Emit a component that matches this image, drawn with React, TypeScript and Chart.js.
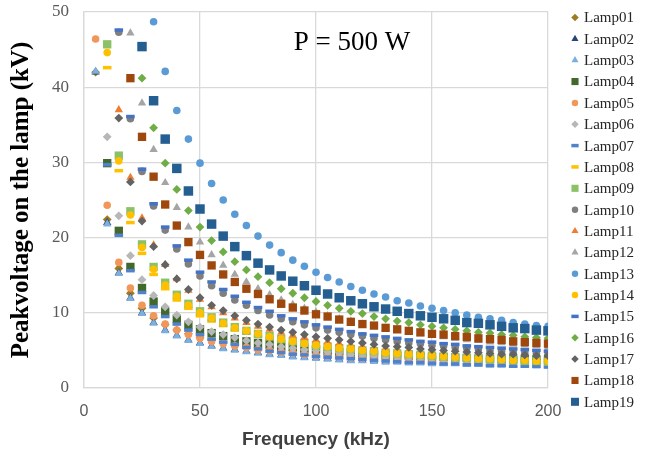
import React, { useEffect, useRef } from 'react';
import { Chart, registerables } from 'chart.js';

Chart.register(...registerables);

// ---------- data ----------
const frequencies = [5, 10, 15, 20, 25, 30, 35, 40, 45, 50, 55, 60, 65, 70, 75, 80, 85, 90, 95, 100,
  105, 110, 115, 120, 125, 130, 135, 140, 145, 150, 155, 160, 165, 170, 175, 180, 185, 190, 195, 200];

const lampNames = ['Lamp01', 'Lamp02', 'Lamp03', 'Lamp04', 'Lamp05', 'Lamp06', 'Lamp07', 'Lamp08', 'Lamp09', 'Lamp10',
  'Lamp11', 'Lamp12', 'Lamp13', 'Lamp14', 'Lamp15', 'Lamp16', 'Lamp17', 'Lamp18', 'Lamp19'];

const lamp01 = [42.0, 22.4, 15.9, 12.6, 10.6, 9.3, 8.4, 7.7, 7.2, 6.7, 6.4, 6.1, 5.8, 5.6, 5.4, 5.3, 5.1, 5.0, 4.9, 4.8, 4.7, 4.6, 4.5, 4.4, 4.4, 4.3, 4.3, 4.2, 4.2, 4.1, 4.1, 4.0, 4.0, 4.0, 3.9, 3.9, 3.9, 3.8, 3.8, 3.8];
const lamp02 = [42.0, 22.0, 15.3, 12.0, 10.0, 8.7, 7.7, 7.0, 6.4, 6.0, 5.6, 5.3, 5.1, 4.9, 4.7, 4.5, 4.4, 4.2, 4.1, 4.0, 3.9, 3.8, 3.7, 3.7, 3.6, 3.5, 3.5, 3.4, 3.4, 3.3, 3.3, 3.3, 3.2, 3.2, 3.1, 3.1, 3.1, 3.1, 3.0, 3.0];
const lamp03 = [42.1, 21.8, 15.2, 11.9, 9.9, 8.6, 7.6, 6.9, 6.3, 5.9, 5.5, 5.2, 5.0, 4.8, 4.6, 4.4, 4.3, 4.1, 4.0, 3.9, 3.8, 3.7, 3.6, 3.6, 3.5, 3.4, 3.4, 3.3, 3.3, 3.2, 3.2, 3.2, 3.1, 3.1, 3.0, 3.0, 3.0, 3.0, 2.9, 2.9];
const lamp04 = [null, 29.9, 20.9, 16.1, 13.3, 11.5, 10.2, 9.2, 8.4, 7.8, 7.3, 6.9, 6.5, 6.2, 6.0, 5.8, 5.5, 5.4, 5.2, 5.1, 4.9, 4.8, 4.7, 4.6, 4.5, 4.4, 4.3, 4.3, 4.2, 4.1, 4.1, 4.0, 4.0, 3.9, 3.9, 3.8, 3.8, 3.8, 3.7, 3.7];
const lamp05 = [46.4, 24.3, 16.7, 13.3, 11.0, 9.6, 8.5, 7.7, 7.1, 6.6, 6.2, 5.9, 5.6, 5.4, 5.1, 5.0, 4.8, 4.7, 4.5, 4.4, 4.3, 4.2, 4.1, 4.0, 4.0, 3.9, 3.8, 3.8, 3.7, 3.7, 3.6, 3.6, 3.5, 3.5, 3.5, 3.4, 3.4, 3.4, 3.3, 3.3];
const lamp06 = [null, 33.4, 22.9, 17.6, 14.4, 12.3, 10.8, 9.7, 8.8, 8.1, 7.5, 7.1, 6.7, 6.3, 6.0, 5.8, 5.5, 5.3, 5.1, 5.0, 4.8, 4.7, 4.5, 4.4, 4.3, 4.2, 4.1, 4.1, 4.0, 3.9, 3.8, 3.8, 3.7, 3.7, 3.6, 3.6, 3.5, 3.5, 3.4, 3.4];
const lamp07 = [null, 29.7, 20.3, 15.6, 12.7, 10.8, 9.5, 8.5, 7.7, 7.1, 6.5, 6.1, 5.8, 5.4, 5.2, 4.9, 4.7, 4.5, 4.4, 4.2, 4.1, 4.0, 3.9, 3.8, 3.7, 3.6, 3.5, 3.4, 3.4, 3.3, 3.2, 3.2, 3.1, 3.1, 3.0, 3.0, 2.9, 2.9, 2.9, 2.8];
const lamp08 = [null, 42.6, 28.9, 22.0, 17.9, 15.1, 13.2, 11.7, 10.6, 9.6, 8.9, 8.3, 7.7, 7.3, 6.9, 6.6, 6.2, 6.0, 5.7, 5.5, 5.3, 5.1, 5.0, 4.8, 4.7, 4.6, 4.5, 4.3, 4.2, 4.1, 4.1, 4.0, 3.9, 3.8, 3.8, 3.7, 3.6, 3.6, 3.5, 3.5];
const lamp09 = [null, 45.7, 30.9, 23.5, 19.1, 16.1, 14.0, 12.4, 11.2, 10.2, 9.4, 8.7, 8.1, 7.6, 7.2, 6.9, 6.5, 6.2, 6.0, 5.7, 5.5, 5.3, 5.2, 5.0, 4.9, 4.7, 4.6, 4.5, 4.4, 4.3, 4.2, 4.1, 4.0, 3.9, 3.8, 3.8, 3.7, 3.6, 3.6, 3.5];
const lamp10 = [null, null, 47.3, 35.8, 28.8, 24.2, 21.0, 18.5, 16.5, 14.9, 13.6, 12.6, 11.7, 11.0, 10.3, 9.7, 9.2, 8.8, 8.4, 8.0, 7.7, 7.4, 7.1, 6.9, 6.6, 6.4, 6.2, 6.0, 5.9, 5.7, 5.6, 5.4, 5.3, 5.2, 5.0, 4.9, 4.8, 4.7, 4.6, 4.5];
const lamp11 = [null, null, 37.0, 28.0, 22.6, 19.0, 16.4, 14.5, 13.0, 11.8, 10.8, 10.0, 9.3, 8.7, 8.2, 7.8, 7.4, 7.0, 6.7, 6.4, 6.1, 5.9, 5.7, 5.5, 5.3, 5.2, 5.0, 4.9, 4.7, 4.6, 4.5, 4.4, 4.3, 4.2, 4.1, 4.0, 3.9, 3.8, 3.8, 3.7];
const lamp12 = [null, null, null, 47.2, 37.9, 31.7, 27.3, 24.0, 21.4, 19.4, 17.7, 16.3, 15.1, 14.1, 13.2, 12.4, 11.7, 11.1, 10.6, 10.1, 9.6, 9.2, 8.9, 8.5, 8.2, 7.9, 7.7, 7.4, 7.2, 7.0, 6.8, 6.6, 6.4, 6.3, 6.1, 6.0, 5.8, 5.7, 5.6, 5.4];
const lamp13 = [null, null, null, null, null, 48.7, 42.1, 36.9, 33.1, 29.9, 27.2, 25.0, 23.1, 21.6, 20.2, 19.0, 18.0, 17.0, 16.2, 15.4, 14.7, 14.1, 13.5, 13.0, 12.5, 12.1, 11.6, 11.3, 10.9, 10.6, 10.3, 10.0, 9.7, 9.4, 9.2, 9.0, 8.7, 8.5, 8.3, 8.2];
const lamp14 = [null, 44.6, 30.2, 23.0, 18.7, 15.8, 13.7, 12.2, 11.0, 10.0, 9.3, 8.6, 8.0, 7.6, 7.2, 6.8, 6.5, 6.2, 5.9, 5.7, 5.5, 5.3, 5.2, 5.0, 4.9, 4.7, 4.6, 4.5, 4.4, 4.3, 4.2, 4.1, 4.0, 3.9, 3.9, 3.8, 3.7, 3.7, 3.6, 3.6];
const lamp15 = [null, null, 47.6, 36.1, 29.1, 24.5, 21.4, 18.9, 17.0, 15.4, 14.1, 13.1, 12.2, 11.4, 10.7, 10.2, 9.6, 9.2, 8.8, 8.4, 8.1, 7.8, 7.5, 7.2, 7.0, 6.8, 6.6, 6.4, 6.2, 6.1, 5.9, 5.8, 5.6, 5.5, 5.4, 5.3, 5.2, 5.1, 5.0, 4.9];
const lamp16 = [null, null, null, null, 41.2, 34.6, 29.9, 26.4, 23.6, 21.4, 19.6, 18.1, 16.8, 15.7, 14.8, 14.0, 13.2, 12.6, 12.0, 11.5, 11.0, 10.6, 10.2, 9.9, 9.5, 9.2, 8.9, 8.7, 8.4, 8.2, 8.0, 7.8, 7.6, 7.4, 7.3, 7.1, 7.0, 6.8, 6.7, 6.6];
const lamp17 = [null, null, 35.9, 27.4, 22.2, 18.8, 16.4, 14.5, 13.1, 12.0, 11.0, 10.3, 9.6, 9.0, 8.5, 8.1, 7.7, 7.4, 7.1, 6.8, 6.6, 6.4, 6.2, 6.0, 5.8, 5.6, 5.5, 5.4, 5.2, 5.1, 5.0, 4.9, 4.8, 4.7, 4.6, 4.5, 4.5, 4.4, 4.3, 4.3];
const lamp18 = [null, null, null, 41.2, 33.4, 28.1, 24.4, 21.6, 19.4, 17.7, 16.3, 15.1, 14.1, 13.2, 12.5, 11.8, 11.2, 10.7, 10.3, 9.8, 9.5, 9.1, 8.8, 8.5, 8.3, 8.0, 7.8, 7.6, 7.4, 7.2, 7.1, 6.9, 6.8, 6.6, 6.5, 6.4, 6.2, 6.1, 6.0, 5.9];
const lamp19 = [null, null, null, null, 45.4, 38.2, 33.1, 29.2, 26.2, 23.8, 21.8, 20.2, 18.8, 17.6, 16.6, 15.7, 14.9, 14.2, 13.6, 13.0, 12.5, 12.0, 11.6, 11.2, 10.8, 10.5, 10.2, 9.9, 9.6, 9.4, 9.2, 9.0, 8.7, 8.6, 8.4, 8.2, 8.0, 7.9, 7.7, 7.6];

const lampValues = [lamp01, lamp02, lamp03, lamp04, lamp05, lamp06, lamp07, lamp08, lamp09, lamp10,
  lamp11, lamp12, lamp13, lamp14, lamp15, lamp16, lamp17, lamp18, lamp19];

const xTitle = 'Frequency (kHz)';
const yTitle = 'Peakvoltage on the lamp (kV)';
const annotationText = 'P = 500 W';
const annotationX = 115.5;
const annotationY = 45.9;

// ---------- styles ----------
const lampColors = ['#9E7B22', '#264478', '#7CAFDD', '#43682B', '#F1975A', '#B7B7B7', '#4F81CC', '#FFC000', '#8CC168', '#7F7F7F',
  '#ED7D31', '#A5A5A5', '#5B9BD5', '#FFC000', '#4472C4', '#70AD47', '#636363', '#9E480E', '#255E91'];
const lampMarkers = ['rectRot', 'triangle', 'triangle', 'rect', 'circle', 'rectRot', 'line', 'line', 'rect', 'circle',
  'triangle', 'triangle', 'circle', 'circle', 'line', 'rectRot', 'rectRot', 'rect', 'rect'];
const markerRadius: Record<string, number> = { rectRot: 4.4, triangle: 4.8, rect: 5.9, circle: 3.8, line: 4.3 };

const SERIF = '"Liberation Serif", "Times New Roman", serif';
const SANS = '"Liberation Sans", Arial, sans-serif';

function radiusFor(i: number) {
  if (i === 18) return 6.7;
  return markerRadius[lampMarkers[i]];
}

function drawMarker(ctx: CanvasRenderingContext2D, style: string, color: string, x: number, y: number, r: number) {
  ctx.fillStyle = color;
  ctx.strokeStyle = color;
  ctx.beginPath();
  if (style === 'circle') {
    ctx.arc(x, y, r, 0, Math.PI * 2);
    ctx.fill();
  } else if (style === 'rect') {
    const s = r * Math.SQRT1_2;
    ctx.rect(x - s, y - s, 2 * s, 2 * s);
    ctx.fill();
  } else if (style === 'rectRot') {
    ctx.moveTo(x - r, y);
    ctx.lineTo(x, y - r);
    ctx.lineTo(x + r, y);
    ctx.lineTo(x, y + r);
    ctx.closePath();
    ctx.fill();
  } else if (style === 'triangle') {
    ctx.moveTo(x, y - r);
    ctx.lineTo(x + 0.866 * r, y + 0.5 * r);
    ctx.lineTo(x - 0.866 * r, y + 0.5 * r);
    ctx.closePath();
    ctx.fill();
  } else {
    ctx.lineWidth = 3.5;
    ctx.moveTo(x - r, y);
    ctx.lineTo(x + r, y);
    ctx.stroke();
  }
}

const overlayPlugin = {
  id: 'overlay',
  afterDraw(chart: any) {
    const ctx: CanvasRenderingContext2D = chart.ctx;
    const xs = chart.scales.x;
    const ys = chart.scales.y;
    ctx.save();
    ctx.font = `27px ${SERIF}`;
    ctx.fillStyle = '#000000';
    ctx.textAlign = 'center';
    ctx.textBaseline = 'middle';
    ctx.fillText(annotationText, xs.getPixelForValue(annotationX), ys.getPixelForValue(annotationY));

    const legendX = 575;
    const legendTextX = 584;
    const legendTop = 17.5;
    const legendStep = 21.35;
    lampNames.forEach((name, i) => {
      const y = legendTop + i * legendStep;
      drawMarker(ctx, lampMarkers[i], lampColors[i], legendX, y, radiusFor(i) * 0.85);
      ctx.fillStyle = '#262626';
      ctx.font = `15px ${SERIF}`;
      ctx.textAlign = 'left';
      ctx.textBaseline = 'middle';
      ctx.fillText(name, legendTextX, y + 1);
    });
    ctx.restore();
  },
};

export default function App() {
  const canvasRef = useRef<HTMLCanvasElement | null>(null);

  useEffect(() => {
    document.body.style.margin = '0';
    const canvas = canvasRef.current;
    if (!canvas) return;

    const datasets = lampNames.map((name, i) => {
      const pts: { x: number; y: number }[] = [];
      lampValues[i].forEach((v, k) => {
        if (v !== null && v !== undefined) pts.push({ x: frequencies[k], y: v as number });
      });
      const isDash = lampMarkers[i] === 'line';
      return {
        label: name,
        data: pts,
        showLine: false,
        pointStyle: lampMarkers[i],
        pointRadius: radiusFor(i),
        pointHoverRadius: radiusFor(i),
        backgroundColor: lampColors[i],
        borderColor: lampColors[i],
        pointBorderWidth: isDash ? 3.5 : 0,
        borderWidth: isDash ? 3.5 : 0,
        order: lampNames.length - 1 - i,
      };
    });

    const chart = new Chart(canvas, {
      type: 'scatter',
      data: { datasets } as any,
      options: {
        responsive: false,
        animation: false,
        devicePixelRatio: 1,
        events: [],
        layout: { padding: { left: 0, top: 12, right: 97, bottom: 0 } },
        plugins: {
          legend: { display: false },
          tooltip: { enabled: false },
        },
        scales: {
          x: {
            type: 'linear',
            min: 0,
            max: 200,
            ticks: { stepSize: 50, color: '#595959', font: { family: SANS, size: 16 }, padding: 14 },
            grid: { color: '#D9D9D9', lineWidth: 1.3, drawTicks: false },
            border: { color: '#D9D9D9', width: 1.3 },
            title: {
              display: true,
              text: xTitle,
              color: '#404040',
              font: { family: SANS, size: 19, weight: 'bold' },
              padding: { top: 0, bottom: 10 },
            },
            afterFit: (s: any) => { s.height = 73; s.paddingLeft = 0; s.paddingRight = 0; },
          },
          y: {
            type: 'linear',
            min: 0,
            max: 50,
            ticks: { stepSize: 10, color: '#595959', font: { family: SERIF, size: 17 }, padding: 15 },
            grid: { color: '#D9D9D9', lineWidth: 1.3, drawTicks: false },
            border: { color: '#D9D9D9', width: 1.3 },
            title: {
              display: true,
              text: yTitle,
              color: '#000000',
              font: { family: SERIF, size: 25, weight: 'bold' },
              padding: { top: 7, bottom: 0 },
            },
            afterFit: (s: any) => { s.width = 84; s.paddingTop = 0; s.paddingBottom = 0; },
          },
        },
      } as any,
      plugins: [overlayPlugin],
    });

    return () => chart.destroy();
  }, []);

  return (
    <div style={{ width: 645, height: 461, background: '#ffffff' }}>
      <canvas ref={canvasRef} width={645} height={461} style={{ display: 'block' }} />
    </div>
  );
}
